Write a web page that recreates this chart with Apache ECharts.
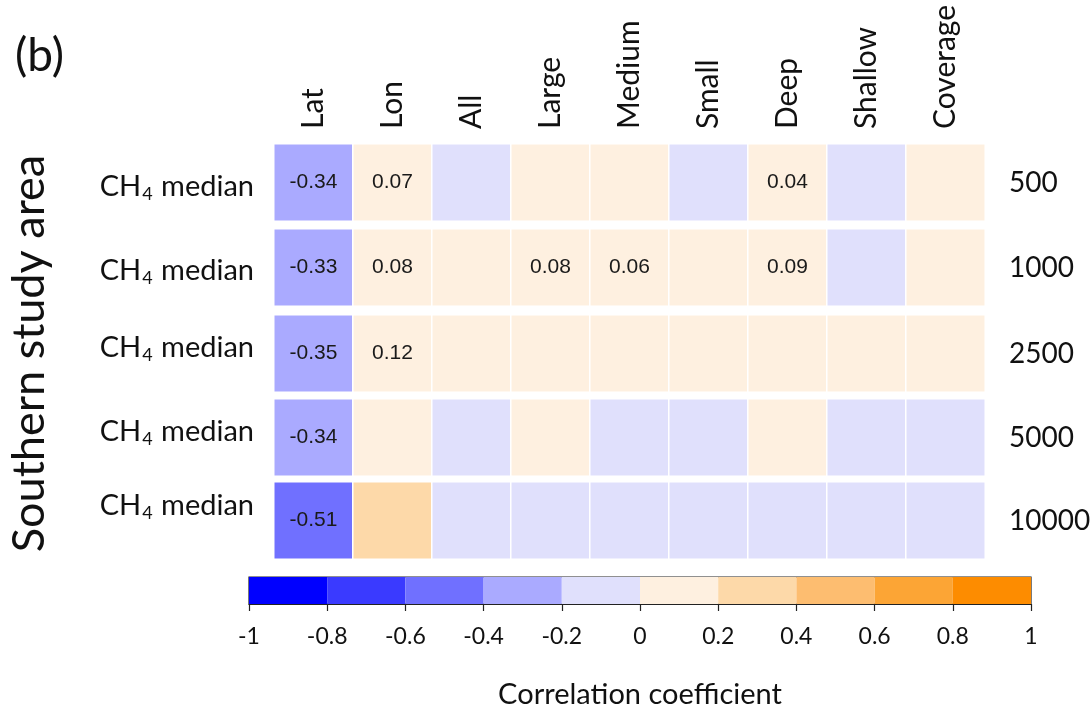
<!DOCTYPE html>
<html><head><meta charset="utf-8">
<script src="https://cdn.jsdelivr.net/npm/echarts@6/dist/echarts.min.js"></script>
<style>html,body{margin:0;padding:0;background:#fff}#c{width:1090px;height:704px}</style>
</head><body><div id="c"></div>
<script>
// ---- data ----
const columns = ['Lat','Lon','All','Large','Medium','Small','Deep','Shallow','Coverage'];
const scales = ['500','1000','2500','5000','10000'];
const rowLabel = 'CH4 median';
const r500   = [-0.34, 0.07, -0.05, 0.03, 0.02, -0.03, 0.04, -0.03, 0.02];
const r1000  = [-0.33, 0.08, 0.05, 0.08, 0.06, 0.03, 0.09, -0.02, 0.03];
const r2500  = [-0.35, 0.12, 0.05, 0.04, 0.04, 0.03, 0.05, 0.02, 0.03];
const r5000  = [-0.34, 0.05, -0.04, 0.03, -0.05, -0.04, 0.03, -0.04, -0.03];
const r10000 = [-0.51, 0.25, -0.06, -0.05, -0.06, -0.05, -0.04, -0.05, -0.05];
// which cells carry a printed value
const lab500   = [1,1,0,0,0,0,1,0,0];
const lab1000  = [1,1,0,1,1,0,1,0,0];
const lab2500  = [1,1,0,0,0,0,0,0,0];
const lab5000  = [1,0,0,0,0,0,0,0,0];
const lab10000 = [1,0,0,0,0,0,0,0,0];
const cbTicks = [-1,-0.8,-0.6,-0.4,-0.2,0,0.2,0.4,0.6,0.8,1];
const cbColors = ['#0000ff','#3a3aff','#7070ff','#aaaaff','#e0e0fc','#fef0e0','#fdd9a9','#fdbd70','#fca535','#fd8c00'];
const colorbarTitle = 'Correlation coefficient';
const areaTitle = 'Southern study area';
const panelTag = '(b)';

const rows = [r500, r1000, r2500, r5000, r10000];
const labs = [lab500, lab1000, lab2500, lab5000, lab10000];

// ---- layout ----
const tops = [144, 229, 315, 399, 482];
const rowH = 77;
const leftShift = [4, 3, -6, -6, -15];
const rightShift = [8, 8, 6, 0, 3];
const F = 'Lato, "Open Sans", sans-serif';

function pad(d){ return d >= 0 ? [2*d,0,0,0] : [0,0,-2*d,0]; }

const grids = [], xAxes = [], yAxes = [], series = [];
rows.forEach((vals, i) => {
  grids.push({left: 274, right: 105, top: tops[i], height: rowH, outerBoundsMode: 'none'});
  xAxes.push({
    type: 'category', gridIndex: i, data: columns, position: 'top',
    show: i === 0,
    axisLine: {show: false}, axisTick: {show: false},
    axisLabel: {show: i === 0, rotate: -90, margin: 15, fontFamily: F, fontSize: 30, color: '#111'}
  });
  yAxes.push({
    type: 'category', gridIndex: i, data: [rowLabel], position: 'left',
    axisLine: {show: false}, axisTick: {show: false},
    name: i === 2 ? areaTitle : '', nameLocation: 'middle', nameRotate: 90, nameGap: 222,
    nameTextStyle: {fontFamily: F, fontSize: 45, color: '#111'},
    axisLabel: {
      margin: 20, padding: pad(leftShift[i]),
      formatter: () => '{a|CH}{s|4}{a| median}',
      rich: {
        a: {fontFamily: F, fontSize: 29, color: '#111'},
        s: {fontFamily: F, fontSize: 18, color: '#111', padding: [15, 1, 0, 1]}
      }
    }
  });
  yAxes.push({
    type: 'category', gridIndex: i, data: [scales[i]], position: 'right',
    axisLine: {show: false}, axisTick: {show: false},
    axisLabel: {margin: 24, align: 'left', padding: pad(rightShift[i]), fontFamily: F, fontSize: 28, color: '#111'}
  });
  series.push({
    type: 'heatmap', xAxisIndex: i, yAxisIndex: 2*i,
    data: vals.map((v, j) => [j, 0, v, labs[i][j]]),
    itemStyle: {borderColor: '#ffffff', borderWidth: 1.5},
    label: {
      show: true, fontFamily: '"Liberation Sans", Arial, sans-serif', fontSize: 21, color: '#1a1a1a',
      formatter: p => p.data[3] ? p.data[2].toFixed(2) : ''
    },
    emphasis: {disabled: true}
  });
});

// colorbar grid
grids.push({left: 249, right: 1090-1031, top: 577, height: 27, show: true, borderColor: '#222', borderWidth: 1.2, backgroundColor: 'transparent', outerBoundsMode: 'none'});
xAxes.push({
  type: 'value', gridIndex: 5, min: -1, max: 1, interval: 0.2,
  splitLine: {show: false},
  axisLine: {show: true, lineStyle: {color: '#222', width: 1.2}},
  axisTick: {show: true, length: 7, lineStyle: {color: '#222', width: 1.2}},
  axisLabel: {margin: 21, fontFamily: F, fontSize: 23, color: '#111',
    formatter: v => String(Math.round(v*10)/10)},
  name: colorbarTitle, nameLocation: 'middle', nameGap: 76,
  nameTextStyle: {fontFamily: F, fontSize: 29, color: '#111'}
});
yAxes.push({type: 'value', gridIndex: 5, min: 0, max: 1, show: false});
series.push({
  type: 'custom', xAxisIndex: 5, yAxisIndex: yAxes.length - 1, z: 1,
  data: cbColors.map((c, k) => [cbTicks[k], cbTicks[k+1], k]),
  encode: {x: [0, 1]},
  renderItem: (params, api) => {
    const a = api.coord([api.value(0), 1]);
    const b = api.coord([api.value(1), 0]);
    return {type: 'rect', shape: {x: a[0], y: a[1], width: b[0]-a[0], height: b[1]-a[1]},
      style: {fill: cbColors[api.value(2)]}};
  },
  silent: true
});

const chart = echarts.init(document.getElementById('c'), null, {renderer: 'canvas'});
chart.setOption({
  animation: false,
  backgroundColor: '#fff',
  title: {text: panelTag, left: 10, top: 28, textStyle: {fontFamily: F, fontSize: 46, fontWeight: 'normal', color: '#111'}},
  grid: grids, xAxis: xAxes, yAxis: yAxes,
  visualMap: {
    type: 'piecewise', show: false, dimension: 2, seriesIndex: [0,1,2,3,4],
    pieces: cbColors.map((c, k) => ({gte: cbTicks[k], lt: cbTicks[k+1], color: c}))
  },
  series: series
});
</script></body></html>
